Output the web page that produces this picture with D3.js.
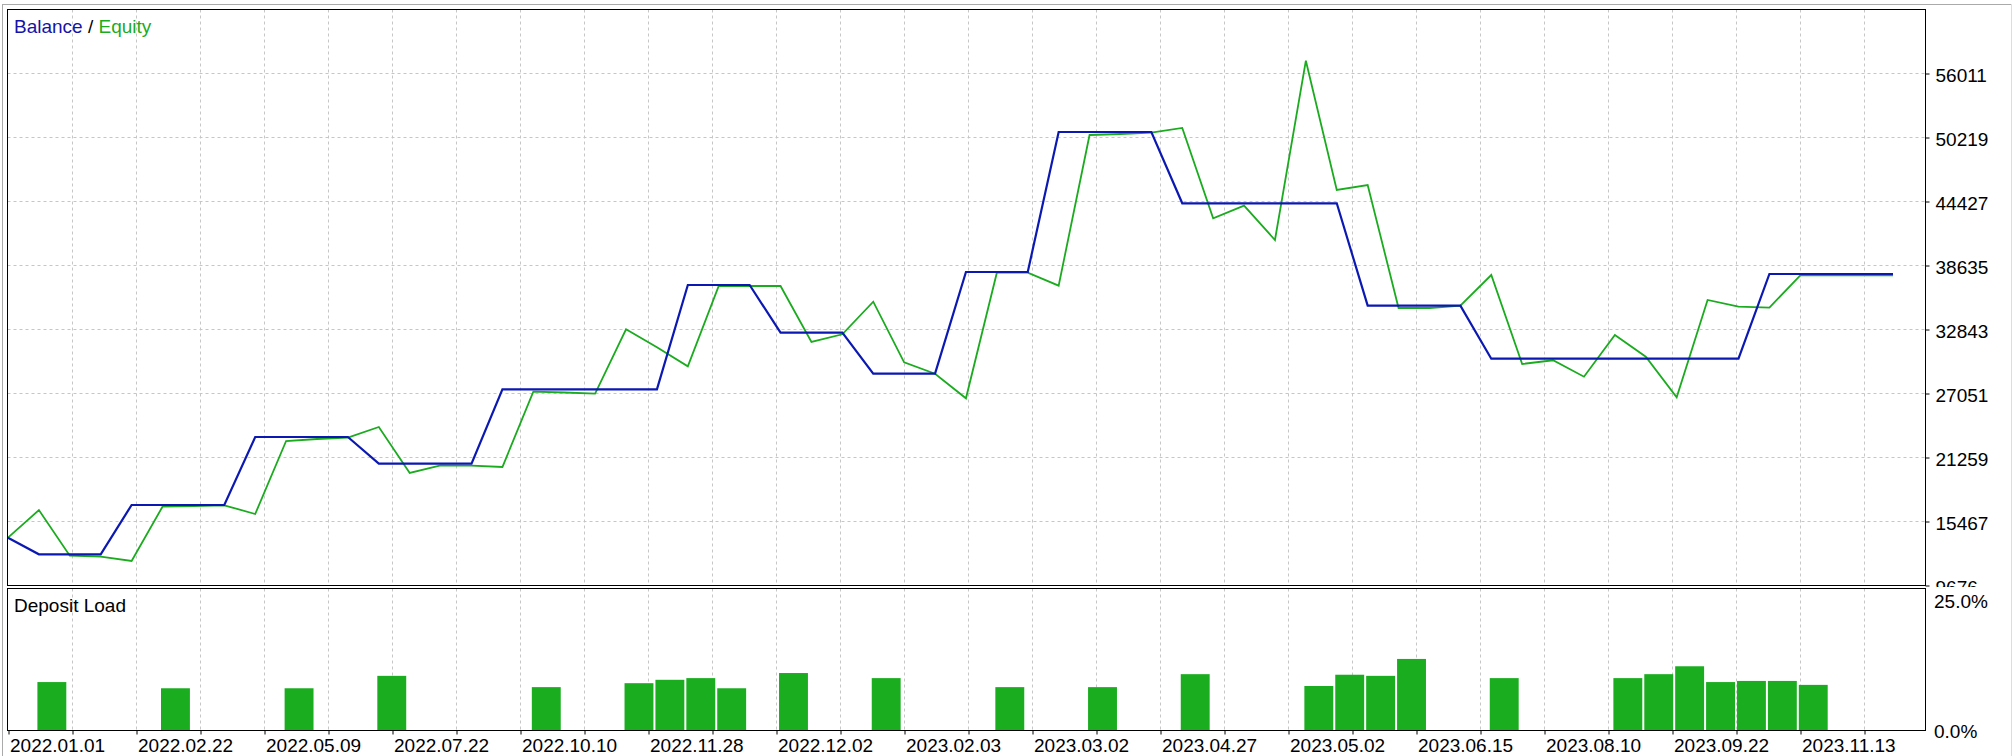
<!DOCTYPE html>
<html>
<head>
<meta charset="utf-8">
<script src="https://cdn.jsdelivr.net/npm/d3@7/dist/d3.min.js"></script>
<style>
  html, body { margin: 0; padding: 0; background: #ffffff; }
  svg { display: block; }
  text { font-family: "Liberation Sans", Arial, sans-serif; font-size: 19px; fill: #000; }
</style>
</head>
<body>
<svg id="chart" width="2014" height="756"></svg>
<script>
// ---------- data ----------
const balance = [13957, 12454, 12454, 12454, 16916, 16916, 16916, 16916, 23070, 23070,
  23070, 23070, 20654, 20654, 20654, 20654, 27387, 27387, 27387, 27387,
  27387, 27387, 36826, 36826, 36826, 32509, 32509, 32509, 28799, 28799,
  28799, 38003, 38003, 38003, 50673, 50673, 50673, 50673, 44220, 44220,
  44220, 44220, 44220, 44220, 34953, 34953, 34953, 34953, 30156, 30156,
  30156, 30156, 30156, 30156, 30156, 30156, 30156, 37822, 37822, 37822,
  37822, 37822];
const equity = [13957, 16464, 12328, 12237, 11848, 16762, 16826, 16889, 16102, 22708,
  22889, 23007, 23975, 19812, 20509, 20473, 20355, 27170, 27098, 26989,
  32817, 31188, 29468, 36736, 36736, 36736, 31668, 32364, 35315, 29830,
  28799, 26572, 37939, 37939, 36763, 50401, 50492, 50609, 51035, 42862,
  44003, 40899, 57125, 45424, 45876, 34745, 34745, 34953, 37731, 29677,
  30011, 28527, 32301, 30337, 26663, 35469, 34862, 34772, 37704, 37704,
  37704, 37704];
const loadSlots = [1, 5, 9, 12, 17, 20, 21, 22, 23, 25, 28, 32, 35, 38, 42, 43, 44, 45, 48, 52, 53, 54, 55, 56, 57, 58];
const loadValues = [8.5, 7.4, 7.4, 9.6, 7.6, 8.3, 8.9, 9.2, 7.4, 10.1, 9.2, 7.6, 7.6, 9.9, 7.8, 9.8, 9.6, 12.6, 9.2, 9.2, 9.9, 11.3, 8.5, 8.7, 8.7, 8.0];
const yTicks = [9676, 15467, 21259, 27051, 32843, 38635, 44427, 50219, 56011];
const yTickLabels = ["9676", "15467", "21259", "27051", "32843", "38635", "44427", "50219", "56011"];
const loadTicks = [0, 25];
const loadTickLabels = ["0.0%", "25.0%"];
const dateLabels = ["2022.01.01", "2022.02.22", "2022.05.09", "2022.07.22", "2022.10.10",
  "2022.11.28", "2022.12.02", "2023.02.03", "2023.03.02", "2023.04.27",
  "2023.05.02", "2023.06.15", "2023.08.10", "2023.09.22", "2023.11.13"];

// ---------- layout ----------
const BLUE = "#0b19b2", GREEN = "#1bab1f", BAR = "#1bad20", GRID = "#c6c6c6";
const L = 7.5, R = 1925.5;
const topT = 9.5, topB = 585.5, botT = 588.5, botB = 730.5;

const svg = d3.select("#chart");

const x = d3.scaleLinear().domain([0, balance.length - 1]).range([8, 1893]);
const xl = d3.scaleLinear().domain([0, dateLabels.length - 1]).range([8, 1800]);
const y = d3.scaleLinear().domain([9676, 61802.9]).range([585, 9]);
const yl = d3.scaleLinear().domain([0, 25]).range([730, 589]);

// outer frame
svg.append("line").attr("x1", 2).attr("x2", 2012).attr("y1", 4.5).attr("y2", 4.5).attr("stroke", "#aaaaaa");
svg.append("line").attr("x1", 2.5).attr("x2", 2.5).attr("y1", 4).attr("y2", 756).attr("stroke", "#aaaaaa");
svg.append("line").attr("x1", 2011.5).attr("x2", 2011.5).attr("y1", 4).attr("y2", 756).attr("stroke", "#dddddd");

// grid positions (every half label step)
const gridPos = d3.range(1, 30).map(k => xl(k / 2));

// ---- top panel grid ----
const gTop = svg.append("g");
gTop.selectAll("line.vg").data(gridPos).enter().append("line")
  .attr("x1", d => Math.round(d) + 0.5).attr("x2", d => Math.round(d) + 0.5)
  .attr("y1", topT).attr("y2", topB)
  .attr("stroke", GRID).attr("stroke-dasharray", "3,3");
gTop.selectAll("line.hg").data(yTicks.slice(1)).enter().append("line")
  .attr("x1", L).attr("x2", R)
  .attr("y1", d => Math.round(y(d)) + 0.5).attr("y2", d => Math.round(y(d)) + 0.5)
  .attr("stroke", GRID).attr("stroke-dasharray", "3,3");

// lines
const line = d3.line().x((d, i) => x(i)).y(d => y(d));
svg.append("path").datum(equity).attr("d", line)
  .attr("fill", "none").attr("stroke", GREEN).attr("stroke-width", 1.8).attr("stroke-linejoin", "miter");
svg.append("path").datum(balance).attr("d", line)
  .attr("fill", "none").attr("stroke", BLUE).attr("stroke-width", 2.2).attr("stroke-linejoin", "miter");

// top panel border
svg.append("rect").attr("x", L).attr("y", topT).attr("width", R - L).attr("height", topB - topT)
  .attr("fill", "none").attr("stroke", "#000");

// top right axis (labels clipped at the lower panel, like the original)
svg.append("defs").append("clipPath").attr("id", "clipTop")
  .append("rect").attr("x", 1900).attr("y", 0).attr("width", 114).attr("height", 587);
const axR = d3.axisRight(y).tickValues(yTicks).tickFormat((d, i) => yTickLabels[i]).tickSize(4).tickPadding(6);
const gAx = svg.append("g").attr("clip-path", "url(#clipTop)")
  .append("g").attr("transform", `translate(${R},0.5)`).call(axR);
gAx.select(".domain").remove();
gAx.selectAll("line").attr("stroke", "#000");
gAx.selectAll("text").style("font-family", '"Liberation Sans", Arial, sans-serif').style("font-size", "19px")
  .attr("dy", "0.42em").attr("fill", "#000");

// legend
const leg = svg.append("text").attr("x", 14).attr("y", 32.5);
leg.append("tspan").style("fill", "#1414a8").text("Balance");
leg.append("tspan").style("fill", "#000").text(" / ");
leg.append("tspan").style("fill", GREEN).text("Equity");

// ---- bottom panel ----
const gBot = svg.append("g");
gBot.selectAll("line.vg").data(gridPos).enter().append("line")
  .attr("x1", d => Math.round(d) + 0.5).attr("x2", d => Math.round(d) + 0.5)
  .attr("y1", botT).attr("y2", botB)
  .attr("stroke", GRID).attr("stroke-dasharray", "3,3");

gBot.selectAll("rect.bar").data(loadSlots).enter().append("rect")
  .attr("x", d => x(d) - 1.5)
  .attr("width", d => x(d + 1) - x(d) - 2)
  .attr("y", (d, i) => yl(loadValues[i]))
  .attr("height", (d, i) => yl(0) - yl(loadValues[i]))
  .attr("fill", BAR);

svg.append("rect").attr("x", L).attr("y", botT).attr("width", R - L).attr("height", botB - botT)
  .attr("fill", "none").attr("stroke", "#000");

svg.append("text").attr("x", 14).attr("y", 611.5).text("Deposit Load");

// bottom right labels
svg.append("text").attr("x", 1934).attr("y", 607.5).text(loadTickLabels[1]);
svg.append("text").attr("x", 1934).attr("y", yl(loadTicks[0]) + 7.5).text(loadTickLabels[0]);

// x axis (date labels)
const axB = d3.axisBottom(xl).tickValues(d3.range(0, 14.6, 0.5)).tickSize(4)
  .tickFormat(d => Number.isInteger(d) ? dateLabels[d] : "");
const gX = svg.append("g").attr("transform", `translate(0.5,${botB})`).call(axB);
gX.select(".domain").remove();
gX.selectAll("line").attr("stroke", "#000");
gX.selectAll("text").style("font-family", '"Liberation Sans", Arial, sans-serif').style("font-size", "19px")
  .attr("text-anchor", "start").attr("x", 1).attr("y", 0).attr("dy", "21px").attr("fill", "#000");
</script>
</body>
</html>
